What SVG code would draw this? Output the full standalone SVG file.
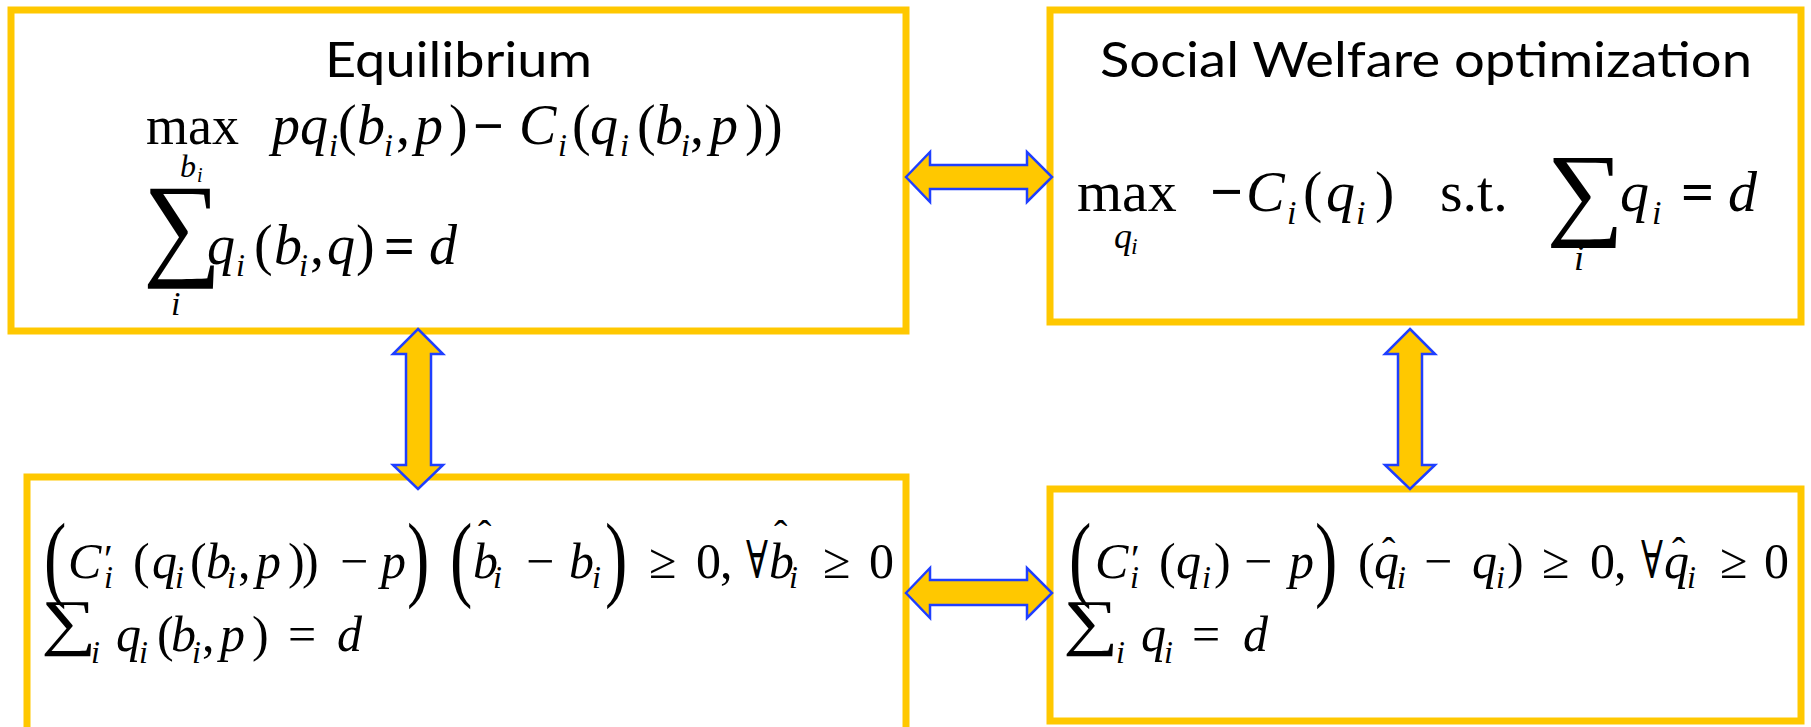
<svg xmlns="http://www.w3.org/2000/svg" width="1811" height="727" viewBox="0 0 1811 727">
<style>
.box{fill:#ffffff;stroke:#FFC800;stroke-width:7}
.arr{fill:#FFC800;stroke:#1F3FFF;stroke-width:2.5;stroke-linejoin:miter}
.t{font-family:"Lato","Open Sans","Liberation Sans",sans-serif;font-size:48px;fill:#000}
.m{font-family:"Liberation Serif","DejaVu Serif",serif;fill:#000}
.i{font-style:italic}
.b{font-weight:bold}
</style>
<rect x="0" y="0" width="1811" height="727" fill="#ffffff"/>

<g id="equilibrium">
<rect class="box" x="11" y="10" width="895" height="321"/>
<text class="t" x="325" y="77" textLength="267" lengthAdjust="spacingAndGlyphs">Equilibrium</text>
<text class="m" font-size="54" x="146" y="144">max</text>
<text class="m i" font-size="32" x="180" y="177">b</text>
<text class="m i" font-size="20" x="197" y="182">i</text>
<text class="m i" font-size="56" y="144" x="272 300 357 415 519 590 655 710">pqbpCqbp</text>
<text class="m" font-size="56" y="144" x="338 396 449 572 637 690 745 764">(,)((,))</text>
<text class="m b" font-size="54" x="473" y="144">−</text>
<text class="m i" font-size="32" y="156" x="329 384 558 620 681">iiiii</text>
<text class="m" font-size="115" transform="translate(143,264) scale(0.96,1)">∑</text>
<text class="m i" font-size="34" x="171" y="315">i</text>
<text class="m i" font-size="56" y="264" x="207 274 327 429">qbqd</text>
<text class="m" font-size="56" y="264" x="254 310 356">(,)</text>
<text class="m b" font-size="54" x="384" y="264">=</text>
<text class="m i" font-size="32" y="276" x="236 299">ii</text>
</g>

<g id="social-welfare">
<rect class="box" x="1050" y="10" width="751" height="312"/>
<text class="t" x="1100" y="77" textLength="652" lengthAdjust="spacingAndGlyphs">Social Welfare optimization</text>
<text class="m" font-size="58" x="1077" y="211">max</text>
<text class="m i" font-size="36" x="1114" y="248">q</text>
<text class="m i" font-size="24" x="1131" y="254">i</text>
<text class="m b" font-size="58" y="211" x="1210 1681">−=</text>
<text class="m" font-size="58" y="211" x="1303 1375">()</text>
<text class="m i" font-size="58" y="211" x="1246 1326 1620 1728">Cqqd</text>
<text class="m i" font-size="34" y="224" x="1287 1356 1652">iii</text>
<text class="m" font-size="58" x="1440" y="211">s.t.</text>
<text class="m" font-size="104" transform="translate(1546,226) scale(1.05,1)">∑</text>
<text class="m i" font-size="36" x="1574" y="270">i</text>
</g>

<g id="vi-equilibrium">
<rect class="box" x="27" y="477" width="879" height="270"/>
<text class="m" font-size="96" transform="translate(44,589) scale(0.7,1)">(</text>
<text class="m" font-size="96" transform="translate(407,589) scale(0.7,1)">)</text>
<text class="m" font-size="96" transform="translate(450,589) scale(0.7,1)">(</text>
<text class="m" font-size="96" transform="translate(605,589) scale(0.7,1)">)</text>
<text class="m i" font-size="50" y="578" x="68 152 206 256 381 473 569 769">Cqbppbbb</text>
<text class="m" font-size="50" y="578" x="133 190 238 288 302 340 526 649 696 720 823 869">((,))−−≥0,≥0</text>
<text class="m" font-size="52" transform="translate(746,578) scale(0.7,1)">∀</text>
<text class="m i" font-size="32" y="588" x="104 175 227 493 592 789">iiiiii</text>
<text class="m" font-size="40" x="104" y="572">′</text>
<text class="m" font-size="40" y="548" x="478 774">ˆˆ</text>
<text class="m" font-size="62" transform="translate(41,643) scale(1.25,1)">∑</text>
<text class="m i" font-size="32" y="663" x="91 139 192">iii</text>
<text class="m i" font-size="50" y="651" x="116 171 220 337">qbpd</text>
<text class="m" font-size="50" y="651" x="157 202 252 288">(,)=</text>
</g>

<g id="vi-welfare">
<rect class="box" x="1050" y="489" width="751" height="232"/>
<text class="m" font-size="96" transform="translate(1069,589) scale(0.7,1)">(</text>
<text class="m" font-size="96" transform="translate(1315,589) scale(0.7,1)">)</text>
<text class="m i" font-size="50" y="578" x="1095 1176 1289 1374 1472 1664">Cqpqqq</text>
<text class="m" font-size="50" y="578" x="1159 1214 1244 1358 1424 1507 1542 1590 1614 1720 1764">()−(−)≥0,≥0</text>
<text class="m" font-size="52" transform="translate(1641,578) scale(0.7,1)">∀</text>
<text class="m i" font-size="32" y="588" x="1130 1202 1397 1496 1687">iiiii</text>
<text class="m" font-size="40" x="1131" y="572">′</text>
<text class="m" font-size="40" y="565" x="1382 1672">ˆˆ</text>
<text class="m" font-size="62" transform="translate(1063,643) scale(1.25,1)">∑</text>
<text class="m i" font-size="32" y="663" x="1116 1164">ii</text>
<text class="m i" font-size="50" y="651" x="1141 1243">qd</text>
<text class="m" font-size="50" y="651" x="1192">=</text>
</g>

<g id="connectors">
<polygon class="arr" points="906,177 930,152 930,165 1027,165 1027,152 1052,177 1027,202 1027,189 930,189 930,202"/>
<polygon class="arr" points="906,593 930,568 930,580 1027,580 1027,568 1052,593 1027,618 1027,605 930,605 930,618"/>
<polygon class="arr" points="418,329 443,354 431,354 431,465 443,465 418,489 393,465 406,465 406,354 393,354"/>
<polygon class="arr" points="1410,329 1435,354 1422,354 1422,465 1435,465 1410,489 1385,465 1398,465 1398,354 1385,354"/>
</g>
</svg>
